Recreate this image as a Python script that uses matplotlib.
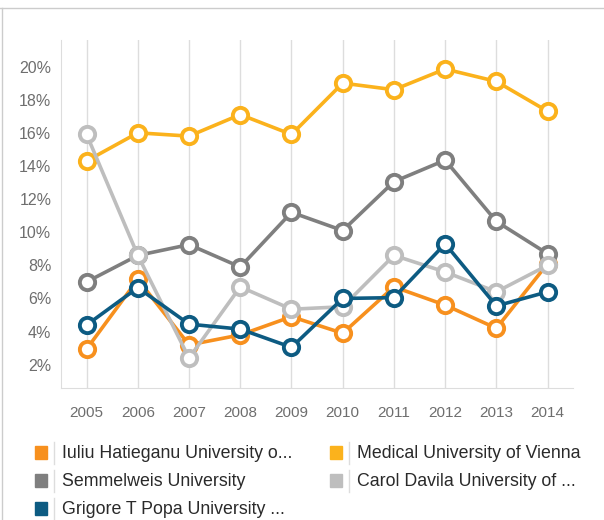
import matplotlib.pyplot as plt
from matplotlib.lines import Line2D
from matplotlib.patches import Rectangle

plt.rcParams['font.family'] = ['Liberation Sans', 'DejaVu Sans']

years = [2005, 2006, 2007, 2008, 2009, 2010, 2011, 2012, 2013, 2014]

iuliu = [2.95, 7.15, 3.2, 3.8, 4.9, 3.9, 6.7, 5.6, 4.2, 8.1]
vienna = [14.3, 16.0, 15.8, 17.1, 15.9, 19.0, 18.6, 19.85, 19.1, 17.3]
semmelweis = [7.0, 8.6, 9.25, 7.9, 11.2, 10.1, 13.05, 14.35, 10.65, 8.7]
carol = [15.9, 8.6, 2.4, 6.7, 5.35, 5.5, 8.6, 7.6, 6.4, 8.0]
grigore = [4.4, 6.65, 4.45, 4.15, 3.05, 6.0, 6.05, 9.3, 5.55, 6.4]

names = ['Iuliu Hatieganu University o...', 'Medical University of Vienna',
         'Semmelweis University', 'Carol Davila University of ...',
         'Grigore T Popa University ...']
colors = ['#F7901E', '#FBB21C', '#7F7F7F', '#BEBEBE', '#0D5B82']
series = [iuliu, vienna, semmelweis, carol, grigore]

fig = plt.figure(figsize=(6.04, 5.20), dpi=100)
ax = fig.add_axes([0.101, 0.254, 0.848, 0.669])

for vals, col in zip(series, colors):
    ax.plot(years, vals, color=col, lw=2.6, marker='o', ms=11,
            mfc='white', mec=col, mew=2.8)

ax.set_xlim(2004.5, 2014.5)
ax.set_ylim(0.6, 21.6)
ax.set_yticks(range(2, 21, 2))
ax.set_yticklabels([f'{v}%' for v in range(2, 21, 2)])
ax.set_xticks(years)
ax.grid(axis='x', color='#DDDDDD', lw=1)
ax.set_axisbelow(True)
for s in ['top', 'right']:
    ax.spines[s].set_visible(False)
for s in ['left', 'bottom']:
    ax.spines[s].set_color('#DDDDDD')
ax.tick_params(length=0, colors='#6E6E6E', labelsize=11.5)
ax.tick_params(axis='x', labelsize=11, pad=13)
ax.tick_params(axis='y', pad=7)

# legend drawn by hand in figure pixels
W, H = 604, 520
spots = [(35, 453), (330, 453), (35, 481), (330, 481), (35, 509)]
for (x, y), name, col in zip(spots, names, colors):
    fig.patches.append(Rectangle((x / W, 1 - (y + 6) / H), 12 / W, 13 / H,
                                 transform=fig.transFigure, color=col))
    fig.lines.append(Line2D([(x + 19) / W] * 2, [1 - (y - 11) / H, 1 - (y + 11) / H],
                            transform=fig.transFigure, color='#DDDDDD', lw=1))
    fig.text((x + 27) / W, 1 - y / H, name, fontsize=12.8, color='#2A2A2A',
             va='center', ha='left')

# card border
fig.lines.append(Line2D([0, 1], [1 - 8 / H] * 2, transform=fig.transFigure,
                        color='#CCCCCC', lw=1))
fig.lines.append(Line2D([2 / W] * 2, [0, 1 - 8 / H], transform=fig.transFigure,
                        color='#CCCCCC', lw=1))

fig.savefig('out.png', dpi=100)
